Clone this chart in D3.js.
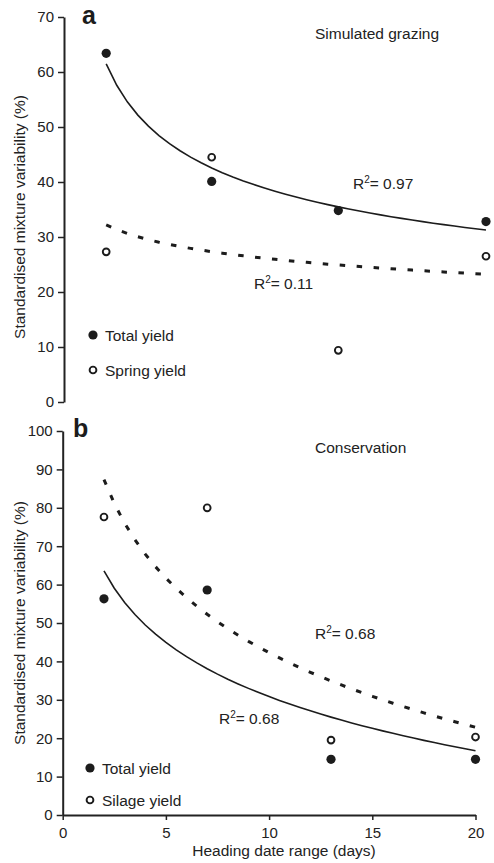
<!DOCTYPE html>
<html>
<head>
<meta charset="utf-8">
<script src="https://cdn.jsdelivr.net/npm/d3@7/dist/d3.min.js"></script>
<style>
	body { margin: 0; background: #fff; }
	svg { display: block; font-family: "Liberation Sans", Arial, sans-serif; }
	.axis path, .axis line { stroke: #222; }
	.axis text { fill: #222; font-size: 15px; font-family: "Liberation Sans", Arial, sans-serif; }
</style>
</head>
<body>
<svg id="chart" width="494" height="863"></svg>
<script>
// heading date range (days)
const days = [2, 7, 13, 20];

// a: simulated grazing
const grazingTotal = [63.4, 40.1, 34.8, 32.8];
const grazingSpring = [27.3, 44.5, 9.4, 26.5];

// b: conservation
const conservTotal = [56.3, 58.6, 14.5, 14.5];
const conservSilage = [77.6, 80.0, 19.5, 20.3];

const xTicks = [0, 5, 10, 15, 20];
const grazingTicks = [0, 10, 20, 30, 40, 50, 60, 70];
const conservTicks = [0, 10, 20, 30, 40, 50, 60, 70, 80, 90, 100];

const grazingR2 = ["0.97", "0.11"];
const conservR2 = ["0.68", "0.68"];

// least squares fits on log-transformed data
function fitLine(xs, ys) {
	let mx = d3.mean(xs), my = d3.mean(ys);
	let sxy = d3.sum(xs, (x, i) => (x - mx) * (ys[i] - my));
	let sxx = d3.sum(xs, x => (x - mx) * (x - mx));
	let b = sxy / sxx;
	return { a: my - b * mx, b: b };
}
function powerFit(xs, ys) {
	let f = fitLine(xs.map(Math.log), ys.map(Math.log));
	return x => Math.exp(f.a) * Math.pow(x, f.b);
}
function logFit(xs, ys) {
	let f = fitLine(xs.map(Math.log), ys);
	return x => f.a + f.b * Math.log(x);
}

const svg = d3.select("#chart");
const ink = "#1c1c1c";
const fs = 15.5;

function drawPanel(opt) {
	let x = d3.scaleLinear().domain([0, 20]).range(opt.xRange);
	let y = d3.scaleLinear().domain([0, opt.yMax]).range(opt.yRange);
	let g = svg.append("g");

	let yAxis = g.append("g")
		.attr("class", "axis")
		.attr("transform", "translate(" + opt.xRange[0] + ",0)")
		.call(d3.axisLeft(y).tickValues(opt.yTicks).tickSize(6).tickSizeOuter(0).tickPadding(4));
	yAxis.select(".domain").attr("stroke-width", 2);
	yAxis.selectAll(".tick line").attr("stroke-width", 1.5);

	if (opt.xAxis) {
		let xAxis = g.append("g")
			.attr("class", "axis")
			.attr("transform", "translate(0," + opt.yRange[0] + ")")
			.call(d3.axisBottom(x).tickValues(xTicks).tickSize(5).tickSizeOuter(0).tickPadding(7));
		xAxis.select(".domain").attr("stroke-width", 2);
		xAxis.selectAll(".tick line").attr("stroke-width", 1.5);
	}

	let xs = d3.range(2, 20.001, 0.5);
	let line = d3.line().x(d => x(d[0])).y(d => y(d[1]));

	g.append("path")
		.attr("d", line(xs.map(v => [v, opt.solidFit(v)])))
		.attr("fill", "none")
		.attr("stroke", ink)
		.attr("stroke-width", 1.6);

	g.append("path")
		.attr("d", line(xs.map(v => [v, opt.dashFit(v)])))
		.attr("fill", "none")
		.attr("stroke", ink)
		.attr("stroke-width", 3)
		.attr("stroke-dasharray", "5.5,11.5");

	g.selectAll(".filled")
		.data(days.map((d, i) => [d, opt.filled[i]]))
		.enter().append("circle")
		.attr("cx", d => x(d[0]))
		.attr("cy", d => y(d[1]))
		.attr("r", 4.6)
		.attr("fill", ink);

	g.selectAll(".open")
		.data(days.map((d, i) => [d, opt.open[i]]))
		.enter().append("circle")
		.attr("cx", d => x(d[0]))
		.attr("cy", d => y(d[1]))
		.attr("r", 3.4)
		.attr("fill", "#fff")
		.attr("stroke", ink)
		.attr("stroke-width", 1.9);

	// panel letter and title
	g.append("text")
		.attr("x", opt.letterPos[0]).attr("y", opt.letterPos[1])
		.attr("font-size", 25).attr("font-weight", "bold").attr("fill", ink)
		.text(opt.letter);
	g.append("text")
		.attr("x", 315).attr("y", opt.titleY)
		.attr("font-size", fs).attr("fill", "#222")
		.text(opt.title);

	// R squared labels
	opt.r2.forEach((r, i) => {
		let t = g.append("text")
			.attr("x", opt.r2Pos[i][0]).attr("y", opt.r2Pos[i][1])
			.attr("font-size", fs).attr("fill", "#222");
		t.append("tspan").text("R");
		t.append("tspan").attr("font-size", 10).attr("dy", -6).text("2");
		t.append("tspan").attr("dy", 6).text("= " + r);
	});

	// legend
	let leg = g.append("g").attr("transform", "translate(" + opt.legendPos[0] + "," + opt.legendPos[1] + ")");
	leg.append("circle").attr("cx", 0).attr("cy", 0).attr("r", 4.6).attr("fill", ink);
	leg.append("text").attr("x", 12).attr("y", 5.5).attr("font-size", fs).attr("fill", "#222").text("Total yield");
	leg.append("circle").attr("cx", 0).attr("cy", opt.legendGap).attr("r", 3.4)
		.attr("fill", "#fff").attr("stroke", ink).attr("stroke-width", 1.9);
	leg.append("text").attr("x", 12).attr("y", opt.legendGap + 5.5).attr("font-size", fs).attr("fill", "#222").text(opt.openLabel);

	// y axis title
	g.append("text")
		.attr("transform", "translate(25," + opt.yTitleCenter + ") rotate(-90)")
		.attr("text-anchor", "middle")
		.attr("font-size", fs).attr("fill", "#222")
		.text("Standardised mixture variability (%)");
}

drawPanel({
	xRange: [64, 486], yRange: [402, 17], yMax: 70, yTicks: grazingTicks, xAxis: false,
	filled: grazingTotal, open: grazingSpring,
	solidFit: powerFit(days, grazingTotal), dashFit: logFit(days, grazingSpring),
	letter: "a", letterPos: [82, 24], title: "Simulated grazing", titleY: 39,
	r2: grazingR2, r2Pos: [[353, 189], [254, 289]],
	legendPos: [93, 335], legendGap: 35, openLabel: "Spring yield",
	yTitleCenter: 217
});

drawPanel({
	xRange: [62.7, 475.5], yRange: [815, 431], yMax: 100, yTicks: conservTicks, xAxis: true,
	filled: conservTotal, open: conservSilage,
	solidFit: logFit(days, conservTotal), dashFit: logFit(days, conservSilage),
	letter: "b", letterPos: [73, 437], title: "Conservation", titleY: 453,
	r2: conservR2, r2Pos: [[315, 639], [219, 724]],
	legendPos: [90, 768], legendGap: 32, openLabel: "Silage yield",
	yTitleCenter: 623
});

svg.append("text")
	.attr("x", 284).attr("y", 856)
	.attr("text-anchor", "middle")
	.attr("font-size", fs).attr("fill", "#222")
	.text("Heading date range (days)");
</script>
</body>
</html>
